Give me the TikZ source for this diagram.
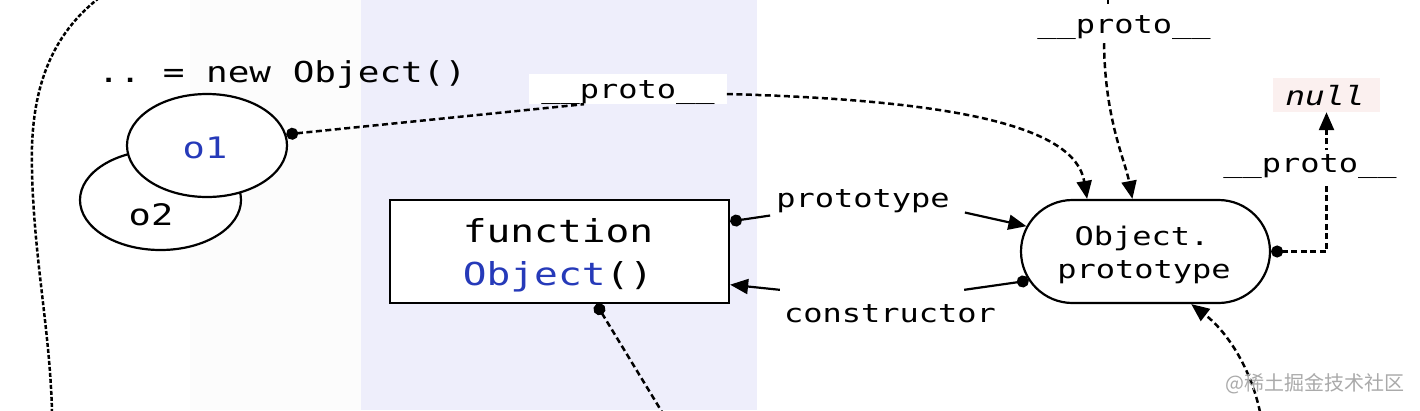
\documentclass[tikz,border=0pt]{standalone}
\usepackage{fontspec}
\setmonofont{DejaVu Sans Mono}
\newfontfamily\cjkfont{Noto Sans CJK SC}
\usepackage{graphicx}
\usetikzlibrary{arrows.meta,shapes.geometric,shapes.misc}
\definecolor{lav}{RGB}{238,238,251}
\definecolor{offw}{RGB}{252,252,252}
\definecolor{codeblue}{RGB}{38,58,185}
\definecolor{nullbg}{RGB}{251,240,239}
\definecolor{wm}{RGB}{170,170,170}
\newcommand{\sq}[1]{\scalebox{1}[0.8]{#1}}
\newcommand{\us}{\textunderscore}
\tikzset{
  txt/.style={inner sep=0pt, anchor=base},
  fs/.style={font=\ttfamily\fontsize{#1}{#1}\selectfont},
  shp/.style={draw, line width=2.2pt, fill=white, inner sep=0pt},
  dsh/.style={line width=2.5pt, dash pattern=on 6pt off 3.5pt},
  sld/.style={line width=2.2pt},
  dotstart/.style={{Circle[length=12pt]}-},
  arr/.style={-{Triangle[length=18pt,width=15pt]}},
  dotarr/.style={{Circle[length=12pt]}-{Triangle[length=18pt,width=15pt]}},
}
\begin{document}
\begin{tikzpicture}[x=1pt,y=-1pt]
\useasboundingbox (0,0) rectangle (1420,410);
\fill[white] (0,0) rectangle (1420,410);
\fill[offw] (190,0) rectangle (361,410);
\fill[lav] (361,0) rectangle (757,410);

% left big curve
\coordinate (cl1) at (99,-2);
\coordinate (cl2) at (52,412);
\draw[line width=2.5pt, dash pattern=on 4pt off 2pt] (cl1) .. controls (45,40) and (30,100) .. (32,170) .. controls (34,260) and (50,330) .. (cl2);

% objects
\node[shp, ellipse, minimum width=161pt, minimum height=100pt] (o2) at (160.5,200) {};
\node[shp, ellipse, minimum width=160pt, minimum height=103pt] (o1) at (207,145.5) {};
\node[txt, fs=37, text=codeblue] (o1t) at (205,158) {\sq{o1}};
\node[txt, fs=37] (o2t) at (151,225) {\sq{o2}};
\node[txt, fs=36] (newobj) at (282,82) {\sq{.. = new Object()}};

% function Object()
\node[shp, minimum width=339pt, minimum height=103pt] (fn) at (559.5,251.5) {};
\node[txt, fs=39.5] (fn1) at (558,242) {\sq{function}};
\node[txt, fs=39.5] (fn2) at (558,285) {\sq{\textcolor{codeblue}{Object}()}};

% Object.prototype
\node[shp, rounded rectangle, minimum width=249pt, minimum height=103pt] (op) at (1145.5,251.5) {};
\node[txt, fs=32] (op1) at (1142,245) {\sq{Object.}};
\node[txt, fs=32] (op2) at (1144,278) {\sq{prototype}};

% null
\node[fill=nullbg, inner sep=0pt, minimum width=107pt, minimum height=34pt] (nullbox) at (1326.5,95) {};
\node[txt, fs=33] (nullt) at (1325,105) {\sq{\itshape null}};

% labels
\node[txt, fs=32, fill=white, text height=24pt, text depth=6pt, inner xsep=12pt] (pmid) at (628,98) {\sq{\us\us proto\us\us}};
\node[txt, fs=32] (ptop) at (1124,33) {\sq{\us\us proto\us\us}};
\node[txt, fs=32] (pproto) at (863,207) {\sq{prototype}};
\node[txt, fs=32] (pcons) at (890,322) {\sq{constructor}};

% o1 -> __proto__ -> Object.prototype
\draw[dsh, dotstart] (o1.8) -- ([xshift=-44pt]pmid.south);
\draw[dsh, arr] ([yshift=-5pt]pmid.east) .. controls (950,100) and (1075,125) .. (op.138);

% top __proto__
\coordinate (ctop) at (1108,-2);
\draw[dsh, shorten >=11pt] (ctop) -- (ctop |- ptop.north);
\draw[dsh, arr] ([xshift=-20pt,yshift=-4pt]ptop.south) .. controls (1105,120) and (1125,160) .. (op.104.7);

% prototype / constructor
\draw[sld, dotstart] (fn.10.5) -- ([xshift=-6pt,yshift=-3pt]pproto.south west);
\draw[sld, arr] ([xshift=15pt]pproto.south east) -- (op.168);
\draw[sld, dotstart] (op.-166) -- ([xshift=-32pt,yshift=14pt]pcons.north east);
\draw[sld, arr] ([xshift=-4pt,yshift=14pt]pcons.north west) -- (fn.-11.2);

% function bottom
\coordinate (cfb) at (662,412);
\draw[dsh, dotstart] (fn.-55) -- (cfb);

% Object.prototype -> null
\draw[dsh, dotarr] (op.east) -| (nullbox.south);
\node[txt, fs=32, fill=white, inner ysep=4pt] (pright) at (1310,172) {\sq{\us\us proto\us\us}};

% bottom arrow into Object.prototype
\coordinate (cob) at (1260,412);
\draw[dsh, arr] (cob) .. controls (1250,365) and (1225,330) .. (op.-49);

% watermark
\node[inner sep=0pt, anchor=base east, font=\cjkfont\fontsize{20}{20}\selectfont, text=wm] (wmk) at (1405,390) {@稀土掘金技术社区};
\end{tikzpicture}
\end{document}
